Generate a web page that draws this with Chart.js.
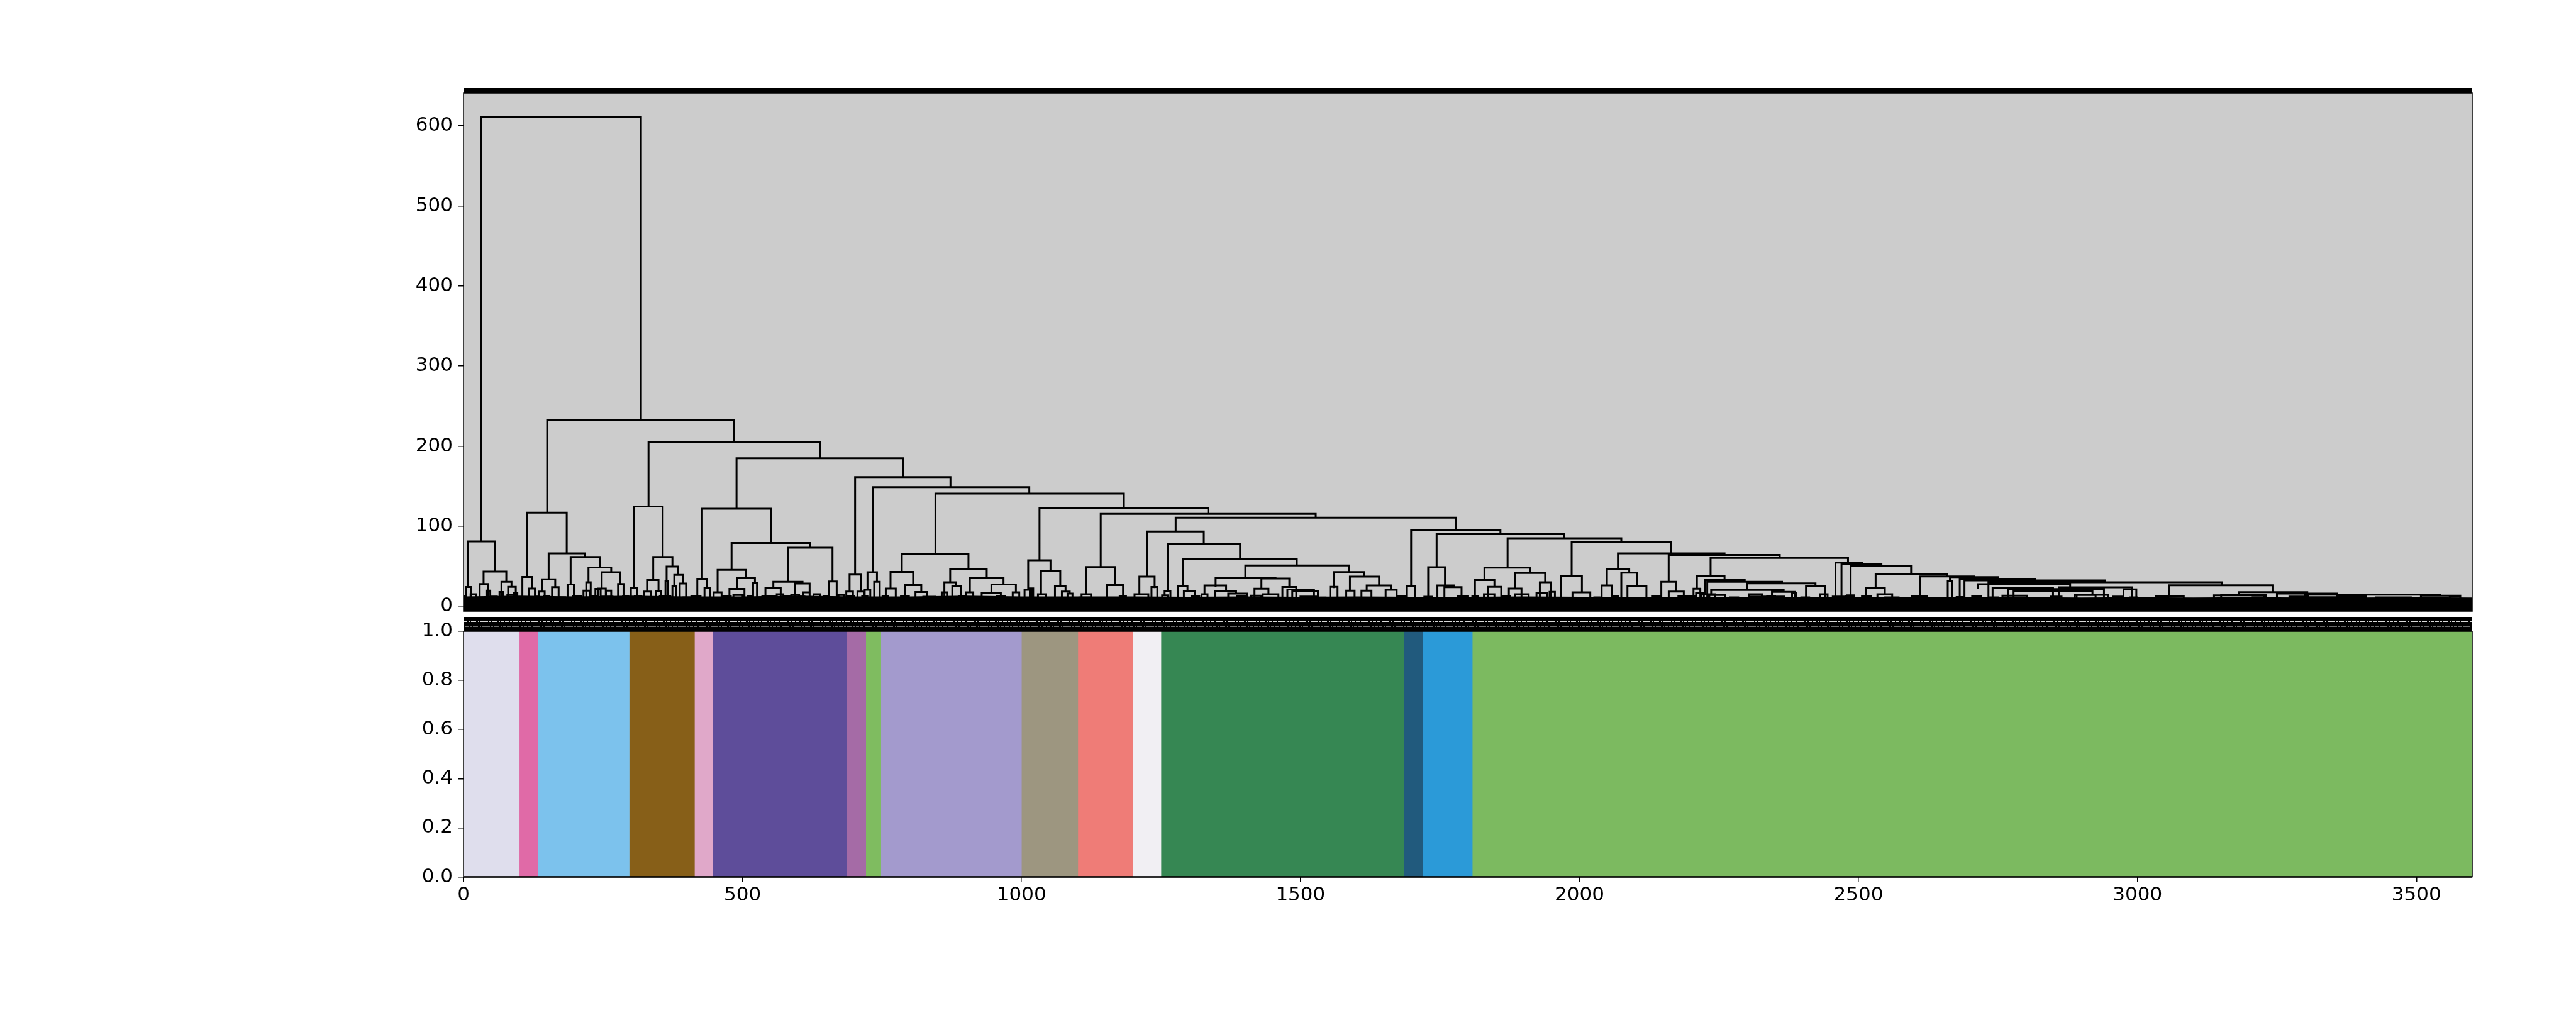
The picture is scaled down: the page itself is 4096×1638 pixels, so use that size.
<!DOCTYPE html>
<html>
<head>
<meta charset="utf-8">
<script src="https://cdn.jsdelivr.net/npm/chart.js@4.4.1/dist/chart.umd.min.js"></script>
<style>
html,body{margin:0;padding:0;background:#fff;width:4096px;height:1638px;overflow:hidden}
canvas{position:absolute;left:0}
#c1{top:0}
#c2{top:975px}
</style>
</head>
<body>
<canvas id="c1" width="4096" height="1010"></canvas>
<canvas id="c2" width="4096" height="663"></canvas>
<script>
// ---------- tick labels ----------
const dendroTicks = [0, 100, 200, 300, 400, 500, 600];
const stripTicks = [0, 0.2, 0.4, 0.6, 0.8, 1.0];
const leafTicks = [0, 500, 1000, 1500, 2000, 2500, 3000, 3500];

// ---------- dendrogram links: [xLeft, xRight, mergeHeight, leftChildHeight, rightChildHeight] ----------
const upperLinks = [
  [32, 318, 611, 81, 232.4],
  [150, 485, 232.4, 117, 205],
  [114.4, 185, 117, 36.6, 66],
  [331.6, 638.6, 205, 124.6, 184.9],
  [305.7, 357, 124.6, 22.7, 61.6],
  [489.3, 787.5, 184.9, 121.8, 161.2],
  [427.6, 550.6, 121.8, 34.2, 79.1],
  [701.8, 872.7, 161.2, 39.6, 148.8],
  [733.2, 1014, 148.8, 42.5, 140.7],
  [845.8, 1183.5, 140.7, 65.1, 122.3],
  [1032.3, 1334.7, 122.3, 57.4, 115.4],
  [1142, 1527.3, 115.4, 48.9, 110.6],
  [1276.3, 1778.4, 110.6, 93.3, 95]
];
const middleLinks = [
  [8, 56.5, 81, 24, 43.2],
  [36, 76.7, 43.2, 27.8, 30.5],
  [105.5, 122.4, 36.6, 6, 22],
  [152.6, 218, 66, 33.7, 61.5],
  [140.8, 164.4, 33.7, 18.4, 23.9],
  [192, 244, 61.5, 27.2, 48.4],
  [224, 264.7, 48.4, 30, 42.5],
  [247.7, 281, 42.5, 22, 27.8],
  [340, 374.4, 61.6, 32.6, 49.5],
  [329, 349.5, 32.6, 18.4, 19],
  [364, 384.8, 49.5, 31.5, 39.2],
  [377.7, 393, 39.2, 25, 28.3],
  [419, 436.6, 34.2, 6, 22.7],
  [480.4, 620.8, 79.1, 45.4, 73.2],
  [455.4, 506.3, 45.4, 17.3, 35.7],
  [490.8, 522.3, 35.7, 21.7, 29.1],
  [581.2, 661.3, 73.2, 30.5, 30.9],
  [555.3, 607.6, 30.5, 23.2, 28.3],
  [654.6, 668.8, 30.9, 6, 6],
  [691.9, 712, 39.6, 18.4, 18.4],
  [724, 741, 42.5, 20.6, 30.5],
  [785.5, 905, 65.1, 42.9, 46.4],
  [765.3, 805.8, 42.9, 22.1, 26.4],
  [872.2, 937.7, 46.4, 30, 35.5],
  [861.8, 883, 30, 6, 25.6],
  [907.5, 967.8, 35.5, 17.3, 27.2],
  [1012, 1052, 57.4, 20.6, 43.6],
  [1035, 1069.5, 43.6, 15, 25],
  [1116.2, 1168, 48.9, 15.1, 26.4],
  [1225.5, 1326.7, 93.3, 37, 77.6],
  [1211.3, 1238.6, 37, 15, 23.9],
  [1262.2, 1391.7, 77.6, 19, 59],
  [1289.5, 1493.4, 59, 25, 51],
  [1401.1, 1586.7, 51, 35.5, 42.6],
  [1347.9, 1455.3, 35.5, 25.4, 34.6],
  [1430, 1480, 34.6, 21.8, 24],
  [1559.8, 1614.5, 42.6, 23.9, 37],
  [1588.6, 1640.8, 37, 19.5, 26],
  [1698.3, 1858.4, 95, 25.4, 90.1],
  [1744, 1972.9, 90.1, 48.8, 84.9],
  [1728.9, 1759, 48.8, 11.9, 26],
  [1871.2, 2075, 84.9, 48.2, 80.3],
  [1829.7, 1912, 48.2, 32.7, 41.5],
  [1812.7, 1847.6, 32.7, 13, 24.3],
  [1884.3, 1938.5, 41.5, 22.1, 30],
  [1986, 2164.6, 80.3, 37.7, 66],
  [1966.8, 2004.4, 37.7, 6, 17.3],
  [2069, 2260, 66, 46.9, 64],
  [2049.2, 2089.2, 46.9, 26, 41.9],
  [2075, 2102.9, 41.9, 6, 25],
  [2159.9, 2359, 64, 30.5, 60.4],
  [2146.7, 2173.5, 30.5, 6, 18.4],
  [2235, 2481.3, 60.4, 37.6, 54.4],
  [2210.5, 2260, 37.6, 21.9, 32.9],
  [2224.6, 2296.2, 32.9, 15, 30.5],
  [2229, 2363, 30.5, 6, 28.5],
  [2458.8, 2506.3, 54.4, 12, 52.9],
  [2469.6, 2541.2, 52.9, 12, 50.8],
  [2486, 2594.4, 50.8, 13.6, 40.5],
  [2530.8, 2659, 40.5, 22.9, 37.1],
  [2610, 2707.4, 37.1, 12.9, 36.5],
  [2664, 2749.8, 36.5, 31.5, 34.3],
  [2660, 2668.3, 31.5, 6, 6],
  [2681.5, 2816.7, 34.3, 11.4, 32.2],
  [2690, 2942, 32.2, 8, 30],
  [2733, 3151, 30, 6, 26.2]
];
const lowerLinks = [
  [4, 13.6, 24, 6, 6], [29, 44, 27.8, 6, 6], [68, 86, 30.5, 6, 24.3], [80, 93.7, 24.3, 6, 6],
  [41, 48, 19.5, 6, 6], [64.5, 71.6, 17.8, 6, 6], [90.4, 96.5, 16.2, 6, 6],
  [117, 128, 22, 6, 6], [135, 145.5, 18.4, 6, 6], [158.7, 170.5, 23.9, 6, 6],
  [186.5, 197.8, 27.2, 6, 6], [220, 228, 30, 6, 6], [215, 227, 19.5, 6, 6],
  [236.4, 245.8, 21.7, 6, 6], [241, 255, 22, 6, 6], [255.3, 264.7, 19.5, 6, 6],
  [277, 286.8, 27.8, 6, 6], [300, 311.3, 22.7, 6, 6], [323.6, 335.3, 18.4, 6, 6],
  [344.7, 354.2, 19, 6, 6], [362, 366, 31.5, 6, 6], [374.4, 381, 25, 6, 6],
  [387.6, 398.9, 28.3, 6, 6], [431.9, 441.3, 22.7, 6, 6], [448.4, 462.5, 17.3, 6, 6],
  [476.6, 503.5, 21.7, 6, 6], [519, 526, 29.1, 6, 6], [535.5, 547.3, 13, 6, 6],
  [541.1, 568.5, 23.2, 6, 6], [561.4, 573.2, 15.1, 6, 6], [587.3, 601.4, 14, 6, 6],
  [594.4, 620.3, 28.3, 6, 6], [608.5, 620.3, 17.3, 6, 6], [627.3, 639, 15, 6, 6],
  [672, 681.5, 14, 6, 6], [686, 698, 18.4, 6, 6], [706, 718, 18.4, 6, 6],
  [719, 729, 20.6, 6, 6], [736, 746, 30.5, 6, 6],
  [756.8, 774.7, 22.1, 6, 6], [791.6, 820.4, 26.4, 6, 17.8], [810, 831.2, 17.8, 6, 6],
  [876, 891, 25.6, 6, 6], [901, 913.6, 17.3, 6, 6], [946.1, 990, 27.2, 16.7, 17.3],
  [928.7, 963, 16.7, 6, 6], [984.3, 996, 17.3, 6, 6], [1005.5, 1017.7, 20.6, 6, 6],
  [1060, 1079, 25, 6, 18.4], [1072.4, 1086.5, 18.4, 6, 15.8], [1107.7, 1124.6, 15.1, 6, 6],
  [1153, 1182, 26.4, 10, 13], [1176, 1187.3, 13, 6, 6], [1233, 1243.4, 24, 6, 6],
  [1256.5, 1266.9, 19, 13.6, 6], [1280, 1297.5, 25, 6, 18.6], [1291, 1310.4, 18.6, 6, 6],
  [1328, 1366.7, 26, 15, 18.6], [1347.5, 1384.6, 18.6, 6, 15.8], [1417.6, 1442.6, 21.8, 6, 15],
  [1467.6, 1492.4, 24, 6, 6], [1476.5, 1524.2, 20.8, 6, 6], [1485.3, 1531.2, 19.3, 6, 6],
  [1553.2, 1566.4, 24.3, 6, 6], [1582, 1597, 19.5, 6, 6],
  [1618.7, 1662, 26, 19.5, 20.6], [1609.3, 1627.2, 19.5, 6, 6], [1652.6, 1672.4, 20.6, 6, 6],
  [1690.8, 1705.4, 25.4, 6, 6], [1745.4, 1774.6, 26, 6, 23.9], [1758, 1788.7, 23.9, 6, 6],
  [1722, 1736, 11.9, 6, 6], [1808, 1817.9, 13, 6, 6], [1835.8, 1859.8, 24.3, 6, 6],
  [1873.5, 1896.1, 22.1, 6, 6], [1929, 1948.9, 30, 6, 6], [1987.5, 2019.4, 17.3, 6, 6],
  [2039.8, 2058.6, 26, 6, 6], [2086, 2120, 25, 6, 6], [2160, 2187, 18.4, 6, 6],
  [2204.4, 2216.6, 21.9, 6, 6], [2301, 2423, 28.5, 20.4, 25], [2406, 2440, 25, 6, 6],
  [2236, 2366, 20.4, 15, 18], [2345, 2386, 18, 6, 6], [2218, 2231, 15, 6, 6],
  [2229, 2243, 15, 6, 6], [2307, 2350, 12, 6, 6], [2454, 2464, 12, 6, 6],
  [2464, 2476, 12, 6, 6], [2480, 2492, 13.6, 6, 6], [2513.4, 2547.3, 22.9, 12.9, 15],
  [2506.3, 2522.8, 12.9, 6, 6], [2534, 2560.5, 15, 6, 6], [2595.3, 2622.6, 12.9, 6, 6],
  [2676, 2687, 11.4, 6, 6], [2713.5, 2879.4, 27.6, 23.3, 19.3], [2740.4, 2848.7, 23.3, 13.3, 6],
  [2758, 2802, 13.3, 6, 6], [2778, 2919.4, 19.3, 6, 14.3], [2891, 2948, 14.3, 6, 6],
  [2768.6, 2940, 21.5, 6, 6], [2860, 2990, 23.6, 6, 6], [2975, 2998, 21, 6, 6],
  [3057, 3243.2, 26.2, 12.9, 17.6], [3033.6, 3083, 12.9, 6, 6], [3182, 3304.4, 17.6, 13.6, 15.7],
  [3137.2, 3227.6, 13.6, 6, 6], [3250, 3358, 15.7, 11.2, 6], [3272.4, 3409, 11.2, 6, 6],
  [3300, 3543, 14.5, 11.2, 13.3], [3508, 3578.6, 13.3, 6, 6], [3430, 3490, 11, 6, 6]
];
// smallest visible merges along the fringe of the leaf band
const fringeLinks = [
  [0, 4, 13, 6, 6], [12.7, 22, 15, 6, 6], [50.4, 59.8, 12, 6, 6], [78.6, 95, 14, 6, 6],
  [128, 135, 12, 6, 6], [144.6, 154, 13, 6, 6], [172.8, 182.2, 11, 6, 6], [196.4, 210.5, 13, 6, 6],
  [229.4, 238.8, 13, 6, 6], [248.2, 267, 12, 6, 6], [285.9, 295.3, 13, 6, 6], [307, 319, 13, 6, 6],
  [351.8, 370.6, 13, 6, 6], [394.2, 413, 11, 6, 6], [408.3, 424.8, 13, 6, 6], [464.8, 479, 13, 6, 6],
  [483.7, 500.2, 14, 6, 6], [509.6, 516.7, 13, 6, 6], [530.8, 540.2, 11, 6, 6], [549.6, 559, 13, 6, 6],
  [575.5, 587.3, 13, 6, 6], [601.4, 610.9, 12, 6, 6], [646.2, 653.3, 13, 6, 6], [686.2, 700.4, 13, 6, 6],
  [714.5, 723.9, 13, 6, 6], [751, 760.6, 13, 6, 6], [784, 798.2, 13, 6, 6], [824, 845.3, 11.9, 6, 6],
  [857.1, 866.5, 17.3, 6, 6], [887.7, 897.2, 13, 6, 6], [956, 970, 13, 6, 6], [1015, 1021, 22.2, 6, 6],
  [1029.5, 1043.7, 15, 6, 6], [1082.5, 1091.4, 15.8, 6, 6], [1103.7, 1124.9, 10.8, 6, 6],
  [1140.8, 1163.8, 10, 6, 6], [1202.6, 1227.4, 15, 6, 6], [1252, 1262.7, 13.6, 6, 6],
  [1304.6, 1318.7, 13, 6, 6], [1322.8, 1333.4, 15, 6, 6], [1370.5, 1404, 15.8, 6, 6],
  [1386.4, 1404.3, 13, 6, 6], [1411, 1428.7, 13.2, 6, 6], [1432.3, 1460.5, 15, 6, 6],
  [1500, 1532, 12, 6, 6], [1536, 1545, 10.8, 6, 6], [1673.3, 1687.5, 13, 6, 6], [1781.7, 1800.5, 13, 6, 6],
  [1828.8, 1847.6, 15, 6, 6], [1860, 1876, 13, 6, 6], [1885, 1909, 15, 6, 6], [1923, 1942, 17, 6, 6],
  [1946.5, 1956, 18, 6, 6], [2026.6, 2036, 11, 6, 6], [2059.5, 2069, 13, 6, 6], [2130, 2144, 13, 6, 6],
  [2177.3, 2205.6, 13, 6, 6], [2209, 2223, 17, 6, 6], [2232.7, 2261, 14, 6, 6], [2270, 2284.5, 11, 6, 6],
  [2303.4, 2327, 15, 6, 6], [2336.4, 2350.5, 13, 6, 6], [2350.5, 2367, 12, 6, 6], [2381, 2388, 17, 6, 6],
  [2397.6, 2411.7, 11, 6, 6], [2430.6, 2444.7, 15, 6, 6], [2477.7, 2491.8, 13, 6, 6], [2548, 2572, 11, 6, 6],
  [2605, 2642.5, 10.5, 6, 6], [2703.8, 2720.3, 13, 6, 6], [2734.3, 2750.8, 11, 6, 6], [2817, 2835.6, 10.5, 6, 6],
  [2845, 2864, 12, 6, 6], [2887.4, 2925, 14, 6, 6], [2957, 2973.3, 12, 6, 6], [2987.5, 2999.2, 11, 6, 6],
  [3150, 3230, 14, 6, 6], [3206.5, 3225.3, 11, 6, 6], [3272.4, 3305.4, 12, 6, 6], [3357.2, 3409, 13, 6, 6],
  [3427.8, 3465.5, 11, 6, 6], [3442, 3508, 10, 6, 6], [3559.7, 3578.6, 13, 6, 6]
];

// ---------- solid mass of low merges along the leaves (top of the black band) ----------
const baseX = [0, 100, 200, 300, 400, 500, 600, 700, 800, 900, 1000, 1100, 1200, 1300, 1400, 1500, 1600, 1700, 1800,
  1900, 2000, 2100, 2200, 2300, 2400, 2500, 2600, 2700, 2800, 2900, 3000, 3100, 3200, 3300, 3400, 3500, 3600];
const baseTop = [11.5, 12.5, 11.5, 12.5, 11.5, 11.5, 12.5, 11.5, 11.5, 12.5, 11.5, 11.5, 11.5, 11, 11.5, 11, 11.5, 11, 11,
  11.5, 11, 11, 11, 10.5, 10.5, 10.5, 11, 10.5, 10.5, 10, 10.5, 10, 10.5, 10, 10, 10.5, 10];

// ---------- cluster colour strip ----------
const clusterStart = [0, 100, 133, 297, 414, 447, 687, 721, 748, 1000, 1101, 1199, 1250, 1685, 1719, 1808];
const clusterEnd = [100, 133, 297, 414, 447, 687, 721, 748, 1000, 1101, 1199, 1250, 1685, 1719, 1808, 3600];
const clusterColors = ['#dfdeed', '#e06aa7', '#7cc2ed', '#875f18', '#e0a8c9', '#5e4d9a', '#a56ba6', '#7fbc60',
  '#a39acd', '#9d9680', '#ef7c77', '#f1eff3', '#368753', '#215a7d', '#2b9ad8', '#7cba60'];

// ---------- helpers ----------
function uShapes(list) {
  const pts = [];
  list.forEach(function (l) {
    const a = l[0], b = l[1], h = l[2], ha = l[3], hb = l[4];
    pts.push({x: a, y: ha}, {x: a, y: h}, {x: b, y: h}, {x: b, y: hb}, {x: b, y: null});
  });
  return pts;
}
const dendroPoints = [].concat(uShapes(upperLinks), uShapes(middleLinks), uShapes(lowerLinks), uShapes(fringeLinks));
const tickFont = {family: 'DejaVu Sans', size: 31};

const panel1 = {
  id: 'panel1',
  beforeDraw(chart) {
    const a = chart.chartArea, ctx = chart.ctx;
    ctx.save();
    ctx.fillStyle = '#cccccc';
    ctx.fillRect(a.left, a.top, a.right - a.left, a.bottom - a.top);
    ctx.restore();
  },
  afterDraw(chart) {
    const a = chart.chartArea, ctx = chart.ctx;
    ctx.save();
    ctx.fillStyle = '#000';
    ctx.fillRect(a.left, a.top - 8, a.right - a.left, 8);
    ctx.strokeStyle = '#000';
    ctx.lineWidth = 1.5;
    ctx.strokeRect(a.left, a.top, a.right - a.left, a.bottom - a.top);
    ctx.restore();
  }
};

const panel2 = {
  id: 'panel2',
  afterDraw(chart) {
    const a = chart.chartArea, ctx = chart.ctx, w = a.right - a.left;
    ctx.save();
    // dense band of overlapping leaf labels
    ctx.fillStyle = '#000';
    ctx.fillRect(a.left, a.top - 22, w, 22);
    ctx.strokeStyle = 'rgba(255,255,255,0.85)';
    ctx.lineWidth = 1;
    ctx.setLineDash([6, 2, 3, 1, 8, 3, 2, 2, 5, 1]);
    ctx.beginPath();
    ctx.moveTo(a.left, a.top - 15.5); ctx.lineTo(a.right, a.top - 15.5);
    ctx.moveTo(a.left + 3, a.top - 8); ctx.lineTo(a.right, a.top - 8);
    ctx.stroke();
    ctx.setLineDash([]);
    // spines
    ctx.strokeStyle = '#000';
    ctx.lineWidth = 1.5;
    ctx.strokeRect(a.left, a.top, w, a.bottom - a.top);
    ctx.lineWidth = 2.5;
    ctx.beginPath(); ctx.moveTo(a.left, a.bottom); ctx.lineTo(a.right, a.bottom); ctx.stroke();
    ctx.restore();
  }
};

// ---------- top: dendrogram ----------
new Chart(document.getElementById('c1'), {
  type: 'line',
  data: {
    datasets: [
      {
        data: dendroPoints, borderColor: '#000', borderWidth: 3, pointRadius: 0, fill: false,
        spanGaps: false, tension: 0, borderJoinStyle: 'miter', borderCapStyle: 'square', order: 0
      },
      {
        data: baseX.map(function (x, i) { return {x: x, y: baseTop[i]}; }),
        borderColor: '#000', borderWidth: 2, backgroundColor: '#000', fill: 'start',
        pointRadius: 0, tension: 0, order: 1
      }
    ]
  },
  options: {
    responsive: false, animation: false, devicePixelRatio: 1, events: [],
    layout: {padding: {left: 657, right: 165, top: 148, bottom: 38}},
    plugins: {legend: {display: false}, tooltip: {enabled: false}},
    scales: {
      x: {type: 'linear', min: 0, max: 3600, display: false},
      y: {
        type: 'linear', min: -6.2, max: 641,
        afterBuildTicks: function (s) { s.ticks = dendroTicks.map(function (v) { return {value: v}; }); },
        afterFit: function (s) { s.width = 80; },
        ticks: {color: '#000', font: tickFont, padding: 8, callback: function (v) { return String(v); }},
        grid: {drawOnChartArea: false, drawTicks: true, tickLength: 9, color: '#000', lineWidth: 1.5},
        border: {display: false}
      }
    }
  },
  plugins: [panel1]
});

// ---------- bottom: cluster colour strip ----------
new Chart(document.getElementById('c2'), {
  type: 'bar',
  data: {
    labels: ['clusters'],
    datasets: clusterStart.map(function (s, i) {
      return {
        label: 'cluster ' + (i + 1), data: [[s, clusterEnd[i]]], backgroundColor: clusterColors[i],
        borderWidth: 0, grouped: false, barPercentage: 1, categoryPercentage: 1, xAxisID: 'x', yAxisID: 'yc'
      };
    })
  },
  options: {
    indexAxis: 'y', responsive: false, animation: false, devicePixelRatio: 1, events: [],
    layout: {padding: {left: 657, right: 165, top: 29, bottom: 0}},
    plugins: {legend: {display: false}, tooltip: {enabled: false}},
    scales: {
      x: {
        type: 'linear', position: 'bottom', min: 0, max: 3600, offset: false,
        afterBuildTicks: function (s) { s.ticks = leafTicks.map(function (v) { return {value: v}; }); },
        afterFit: function (s) { s.height = 243.5; },
        ticks: {color: '#000', font: tickFont, padding: 3, maxRotation: 0, autoSkip: false, callback: function (v) { return String(v); }},
        grid: {offset: false, drawOnChartArea: false, drawTicks: true, tickLength: 8, color: '#000', lineWidth: 1.5},
        border: {display: false}
      },
      y: {
        type: 'linear', position: 'left', min: 0, max: 1, offset: false,
        afterBuildTicks: function (s) { s.ticks = stripTicks.map(function (v) { return {value: v}; }); },
        afterFit: function (s) { s.width = 80; },
        ticks: {color: '#000', font: tickFont, padding: 8, callback: function (v) { return Number(v).toFixed(1); }},
        grid: {offset: false, drawOnChartArea: false, drawTicks: true, tickLength: 9, color: '#000', lineWidth: 1.5},
        border: {display: false}
      },
      yc: {type: 'category', display: false, offset: true}
    }
  },
  plugins: [panel2]
});
</script>
</body>
</html>
